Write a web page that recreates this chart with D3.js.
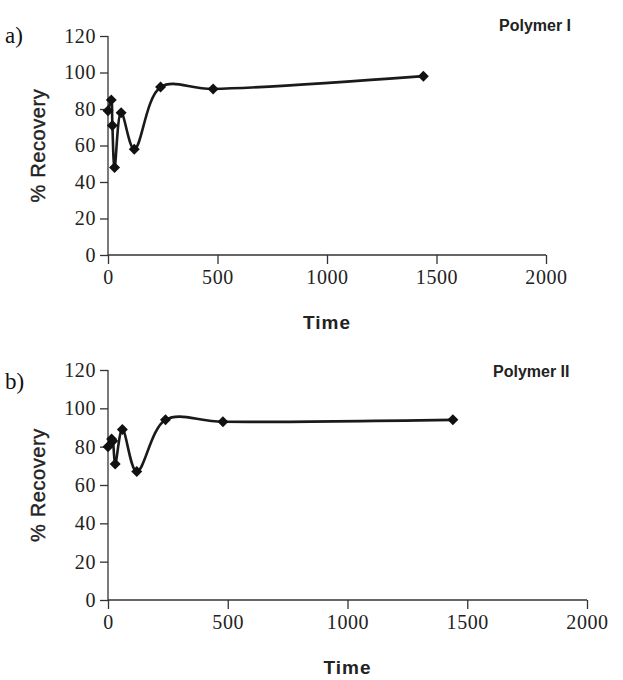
<!DOCTYPE html>
<html><head><meta charset="utf-8">
<script src="https://cdn.jsdelivr.net/npm/d3@7"></script>
<style>body{margin:0;background:#fff}svg{display:block}</style>
</head><body>
<svg id="c" width="623" height="680"></svg>
<script>
const times = [0, 15, 20, 30, 60, 120, 240, 480, 1440];
const recoveryI = [79, 85, 71, 48, 78, 58, 92, 91, 98];
const recoveryII = [80, 84, 83, 71, 89, 67, 94, 93, 94];
const xTicks = [0, 500, 1000, 1500, 2000];
const yTicks = [0, 20, 40, 60, 80, 100, 120];
const panels = [
  {tag: "a)", name: "Polymer I", values: recoveryI, x0: 108, x1: 546, y0: 255, y1: 36, top: 0},
  {tag: "b)", name: "Polymer II", values: recoveryII, x0: 108, x1: 587, y0: 600, y1: 370, top: 346}
];
const svg = d3.select("#c");
const serif = "'Liberation Serif', 'Times New Roman', serif";
const sans = "'Liberation Sans', Arial, sans-serif";
panels.forEach(p => {
  const x = d3.scaleLinear().domain([0, 2000]).range([p.x0, p.x1]);
  const y = d3.scaleLinear().domain([0, 120]).range([p.y0, p.y1]);
  const g = svg.append("g");
  const ax = g.append("g").attr("transform", `translate(0,${p.y0})`)
    .call(d3.axisBottom(x).tickValues(xTicks).tickSize(9).tickPadding(6).tickFormat(d3.format("d")));
  const ay = g.append("g").attr("transform", `translate(${p.x0},0)`)
    .call(d3.axisLeft(y).tickValues(yTicks).tickSize(8).tickPadding(4).tickFormat(d3.format("d")));
  [ax, ay].forEach(a => {
    a.select(".domain").attr("stroke", "#333").attr("stroke-width", 1.3);
    a.selectAll(".tick line").attr("stroke", "#333").attr("stroke-width", 1.3);
    a.selectAll(".tick text").attr("font-family", serif).attr("font-size", 20).attr("fill", "#222").attr("letter-spacing", 0.6);
  });
  ay.select(".domain").attr("d", `M0,${p.y0}V${p.y1}`);
  ax.select(".domain").attr("d", `M${p.x0},0H${p.x1}`);
  const line = d3.line().x((d, i) => x(times[i])).y(d => y(d)).curve(d3.curveCatmullRom.alpha(0.5));
  g.append("path").datum(p.values).attr("d", line).attr("fill", "none")
    .attr("stroke", "#1a1a1a").attr("stroke-width", 2.6);
  g.selectAll(".m").data(p.values).enter().append("path")
    .attr("d", d3.symbol().type(d3.symbolSquare).size(60)())
    .attr("transform", (d, i) => `translate(${x(times[i])},${y(d)}) rotate(45)`)
    .attr("fill", "#111");
  g.append("text").attr("x", 5).attr("y", p.top + 43).text(p.tag)
    .attr("font-family", serif).attr("font-size", 23).attr("fill", "#111");
  g.append("text").attr("transform", `translate(45,${(p.y0 + p.y1) / 2}) rotate(-90)`)
    .attr("text-anchor", "middle").text("% Recovery")
    .attr("font-family", sans).attr("font-size", 20).attr("fill", "#222").attr("letter-spacing", 0.6)
    .attr("stroke", "#222").attr("stroke-width", 0.4);
  g.append("text").attr("x", (p.x0 + p.x1) / 2).attr("y", p.y0 + 74).attr("text-anchor", "middle").text("Time")
    .attr("font-family", sans).attr("font-size", 19).attr("font-weight", "bold").attr("fill", "#222").attr("letter-spacing", 1);
  g.append("text").attr("x", p.top === 0 ? 499 : 493).attr("y", p.top + 31).text(p.name)
    .attr("font-family", sans).attr("font-size", 16).attr("font-weight", "bold").attr("fill", "#222");
});
</script>
</body></html>
